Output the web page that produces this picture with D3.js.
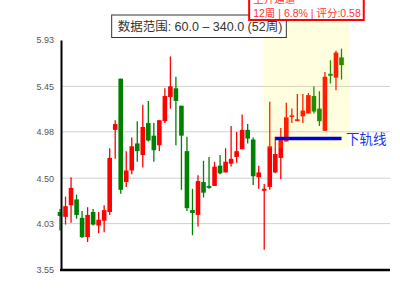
<!DOCTYPE html>
<html>
<head>
<meta charset="utf-8">
<script src="https://cdn.jsdelivr.net/npm/d3@7"></script>
<style>
html, body { margin: 0; padding: 0; background: #fff; }
svg { display: block; font-family: "Liberation Sans", Arial, "Noto Sans CJK SC", sans-serif; }
</style>
</head>
<body>
<svg id="chart" width="400" height="300"></svg>
<script>
// weekly candles, 52 weeks
var opens  = [4.15, 4.10, 4.22, 4.28, 4.09, 3.89, 4.15, 4.01, 4.06, 4.15,
              5.00, 5.53, 4.46, 4.58, 4.86, 4.74, 5.07, 4.94, 4.84, 5.09,
              5.34, 5.43, 5.25, 4.78, 4.17, 4.12, 4.46, 4.42, 4.42, 4.63,
              4.56, 4.65, 4.72, 4.80, 5.00, 4.90, 4.51, 4.37, 4.41, 4.56,
              4.71, 4.88, 5.14, 5.09, 5.14, 5.17, 5.35, 5.22, 4.99, 5.58,
              5.54, 5.75];
var highs  = [4.18, 4.31, 4.51, 4.33, 4.16, 4.20, 4.18, 4.15, 4.22, 4.81,
              5.10, 5.53, 4.78, 4.92, 5.09, 5.26, 5.30, 5.07, 5.10, 5.43,
              5.76, 5.55, 5.25, 4.93, 4.39, 4.53, 4.68, 4.72, 4.67, 4.74,
              4.81, 5.04, 4.98, 5.16, 5.06, 4.92, 4.63, 4.44, 5.29, 4.93,
              5.02, 5.28, 5.22, 5.37, 5.37, 5.38, 5.45, 5.40, 5.60, 5.72,
              5.82, 5.84];
var lows   = [3.96, 4.02, 4.04, 4.08, 3.88, 3.84, 4.01, 3.93, 3.94, 4.12,
              4.70, 4.34, 4.41, 4.54, 4.67, 4.61, 4.88, 4.67, 4.78, 5.07,
              5.22, 4.84, 4.38, 4.16, 3.91, 4.00, 4.30, 4.39, 4.42, 4.54,
              4.56, 4.62, 4.66, 4.80, 4.86, 4.43, 4.39, 3.76, 4.38, 4.55,
              4.49, 4.88, 5.07, 5.09, 5.07, 5.17, 5.17, 5.04, 4.99, 5.48,
              5.41, 5.52];
var closes = [4.11, 4.21, 4.40, 4.12, 3.89, 4.12, 4.02, 4.07, 4.17, 4.71,
              5.06, 4.38, 4.58, 4.83, 4.78, 5.03, 4.89, 4.79, 5.10, 5.35,
              5.45, 5.30, 4.94, 4.19, 4.14, 4.47, 4.35, 4.40, 4.62, 4.55,
              4.67, 4.70, 4.78, 5.00, 4.91, 4.52, 4.56, 4.39, 4.83, 4.75,
              4.91, 5.13, 5.15, 5.11, 5.20, 5.36, 5.19, 5.09, 5.55, 5.56,
              5.80, 5.67];

var yTicks = [3.55, 4.03, 4.50, 4.98, 5.45, 5.93];

// channel highlight (week index range, price range)
var channelWeeks = [36.8, 52.5];
var channelPrices = [4.81, 6.14];
var channelTitle = "上升通道";
var channelInfo = "12周 | 6.8% | 评分:0.58";

// lower rail
var railWeeks = [39, 51];
var railPrice = 4.91;
var railLabel = "下轨线";

var rangeLabel = "数据范围: 60.0 – 340.0 (52周)";

var svg = d3.select("#chart");
var W = 400, padL = 61, padR = 390, plotTop = 40, plotBottom = 270;

var x = d3.scaleLinear().domain([0, opens.length - 1]).range([60, 341.5]);
var y = d3.scaleLinear().domain([3.55, 5.93]).range([plotBottom, plotTop]);

// grid
svg.append("g").selectAll("line")
  .data(yTicks.slice(1, -1))
  .join("line")
  .attr("x1", padL).attr("x2", padR)
  .attr("y1", function(d) { return y(d); }).attr("y2", function(d) { return y(d); })
  .attr("stroke", "#d0d0d0").attr("stroke-width", 1);

// candles
var candles = svg.append("g").selectAll("g")
  .data(opens.map(function(o, i) {
    return { i: i, o: o, h: highs[i], l: lows[i], c: closes[i] };
  }))
  .join("g");

function col(d) { return d.c >= d.o ? "#ff0000" : "#008000"; }

candles.append("line")
  .attr("x1", function(d) { return x(d.i); }).attr("x2", function(d) { return x(d.i); })
  .attr("y1", function(d) { return y(d.h); }).attr("y2", function(d) { return y(d.l); })
  .attr("stroke", col).attr("stroke-width", 1.3);

candles.append("rect")
  .attr("x", function(d) { return x(d.i) - 2.3; })
  .attr("width", 4.6)
  .attr("y", function(d) { return y(Math.max(d.o, d.c)); })
  .attr("height", function(d) { return Math.max(1.6, Math.abs(y(d.o) - y(d.c))); })
  .attr("fill", col);

// channel shade (drawn over the candles)
svg.append("rect")
  .attr("x", x(channelWeeks[0]))
  .attr("width", x(channelWeeks[1]) - x(channelWeeks[0]))
  .attr("y", y(channelPrices[1]))
  .attr("height", y(channelPrices[0]) - y(channelPrices[1]))
  .attr("fill", "#ffff00").attr("fill-opacity", 0.12);

// lower rail
svg.append("line")
  .attr("x1", x(railWeeks[0])).attr("x2", x(railWeeks[1]))
  .attr("y1", y(railPrice)).attr("y2", y(railPrice))
  .attr("stroke", "#0000dd").attr("stroke-width", 3.5);

svg.append("text")
  .attr("x", x(railWeeks[1]) + 4.5)
  .attr("y", y(railPrice) + 5)
  .attr("fill", "#2233ee")
  .attr("font-size", 13.5)
  .text(railLabel);

// axes
var yAxis = svg.append("g")
  .attr("transform", "translate(" + padL + ",0)")
  .call(d3.axisLeft(y).tickValues(yTicks).tickFormat(d3.format(".2f")).tickSize(0).tickPadding(7));
yAxis.select(".domain").attr("stroke", "#000").attr("stroke-width", 2);
yAxis.selectAll("text").attr("fill", "#555").attr("font-size", 9)
  .attr("font-family", "'Liberation Sans', Arial, sans-serif");

svg.append("line")
  .attr("x1", padL - 1).attr("x2", padR)
  .attr("y1", plotBottom).attr("y2", plotBottom)
  .attr("stroke", "#000").attr("stroke-width", 2.5);

// data range label
var rl = svg.append("g");
var rlText = rl.append("text")
  .attr("x", W / 2).attr("y", 31)
  .attr("text-anchor", "middle")
  .attr("fill", "#333").attr("font-size", 12.5)
  .text(rangeLabel);
var bb = rlText.node().getBBox();
rl.insert("rect", "text")
  .attr("x", bb.x - 6).attr("y", 15)
  .attr("width", bb.width + 10).attr("height", 22.5)
  .attr("fill", "#fff").attr("stroke", "#333").attr("stroke-width", 1);

// channel info box
var cx = (x(channelWeeks[0]) + x(channelWeeks[1])) / 2;
var info = svg.append("g");
var t1 = info.append("text").attr("y", 2.5).attr("fill", "#ff3333").attr("font-size", 10.5).text(channelTitle);
var t2 = info.append("text").attr("y", 16.5).attr("fill", "#ff3333").attr("font-size", 10.5).text(channelInfo);
var wBox = Math.max(t1.node().getComputedTextLength(), t2.node().getComputedTextLength()) + 7;
var bx = cx - wBox / 2;
t1.attr("x", bx + 4);
t2.attr("x", bx + 4);
info.insert("rect", "text")
  .attr("x", bx).attr("y", -14)
  .attr("width", wBox).attr("height", 34)
  .attr("fill", "#fff").attr("stroke", "#ff0000").attr("stroke-width", 2);
</script>
</body>
</html>
